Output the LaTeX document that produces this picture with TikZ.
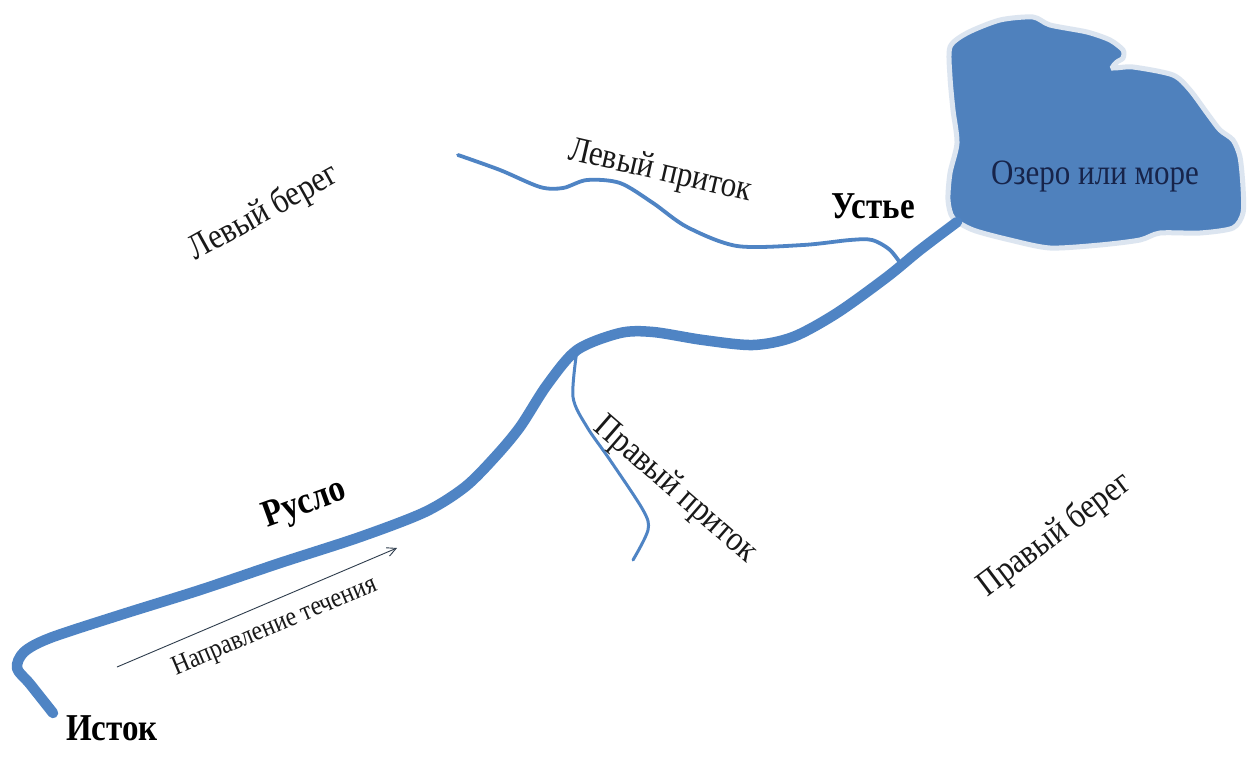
\documentclass[tikz,border=0pt]{standalone}
\usepackage{fontspec}
\usepackage{graphicx}
\setmainfont{Liberation Serif}
\usetikzlibrary{arrows.meta}
\definecolor{riverblue}{HTML}{4F84C4}
\definecolor{lakeblue}{HTML}{4F81BD}
\definecolor{lakeedge}{HTML}{DCE5F0}
\definecolor{laketext}{HTML}{17244A}
\definecolor{arrowcol}{HTML}{2E3C4C}
\newcommand\talltext[1]{\scalebox{1}[1.15]{#1}}
\tikzset{
  river/.style={draw=riverblue, line cap=round, line join=round},
  lbl/.style={font=\fontsize{31}{35}\selectfont, inner sep=0pt, text=black!90},
  boldlbl/.style={font=\fontsize{33}{38}\selectfont\bfseries, inner sep=0pt, text=black},
  smalllbl/.style={font=\fontsize{24}{27}\selectfont, inner sep=0pt, text=black!90},
  flowarrow/.style={draw=arrowcol, line width=0.9pt, -{Straight Barb[length=9pt,width=9pt]}}
}
\begin{document}
\begin{tikzpicture}[x=1pt,y=-1pt]
\useasboundingbox[fill=white] (0,0) rectangle (1252,760);

% lake
\draw[draw=lakeedge, line width=5pt, fill=lakeblue] plot[smooth cycle, tension=0.45] coordinates {
 (950,47) (967,33) (1000,20) (1033,17) (1050,25) (1087,32) (1110,40) (1123,50)
 (1123,58) (1117,62) (1113,68) (1133,67) (1173,75) (1190,90) (1207,113) (1220,130)
 (1233,140) (1240,157) (1243,187) (1243,213) (1233,228) (1200,233) (1160,233)
 (1140,240) (1100,245) (1050,248) (1010,240) (973,230) (953,218) (948,200)
 (950,173) (957,143) (953,110) (950,77)};

% main river
\draw[river, line width=10.5pt] plot[smooth, tension=0.5] coordinates {
 (53,713) (30,684) (17,668) (24,652) (50,638) (120,615) (200,590) (280,563)
 (360,537) (425,512) (465,487) (495,457) (520,427) (547,385) (577,350) (620,333)
 (653,332) (703,340) (753,345) (793,337) (837,313) (887,277) (920,250) (957,222)};

% left tributary
\draw[river, line width=3.8pt] plot[smooth, tension=0.5] coordinates {
 (458,155) (500,170) (540,187) (563,188) (587,180) (620,183) (653,203) (687,227)
 (737,246) (803,245) (850,240) (872,240) (890,250) (903,267)};

% right tributary
\draw[river, line width=3pt] plot[smooth, tension=0.5] coordinates {
 (577,350) (573,397) (587,427) (610,460) (643,510) (648,530) (633,560)};

% flow direction arrow
\coordinate (flowA) at (117,667);
\coordinate (flowB) at (397,548);
\draw[flowarrow] (flowA) -- (flowB);

% labels
\node[boldlbl] (istok) at (112,728) {\talltext{Исток}};
\node[boldlbl] (ustie) at (873,206) {\talltext{Устье}};
\node[boldlbl, rotate=20] (ruslo) at (305,505) {\talltext{Русло}};
\node[lbl, rotate=29] (levbereg) at (264,213) {\talltext{Левый берег}};
\node[lbl, rotate=-13] (levpritok) at (660,172) {\talltext{Левый приток}};
\node[lbl, rotate=-41] (pravpritok) at (675,490) {\talltext{Правый приток}};
\node[lbl, rotate=37] (pravbereg) at (1055,535) {\talltext{Правый берег}};
\node[smalllbl, rotate=23] (napr) at (275,627) {\talltext{Направление течения}};
\node[lbl, text=laketext] (ozero) at (1095,176) {\talltext{Озеро или море}};
\end{tikzpicture}
\end{document}
